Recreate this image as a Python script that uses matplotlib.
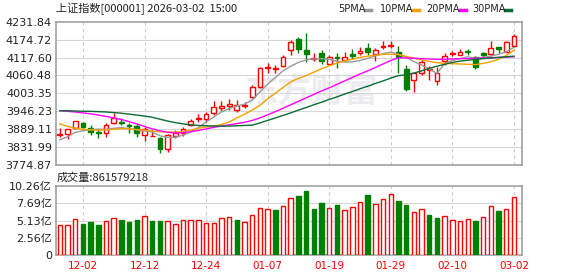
import matplotlib
matplotlib.use("Agg")
import matplotlib.pyplot as plt
from matplotlib.lines import Line2D
import numpy as np

plt.rcParams['font.family'] = ['DejaVu Sans', 'Noto Sans CJK SC']

# daily bars, 2025-11-27 .. 2026-03-02
dates = ["11-27", "11-28", "12-01", "12-02", "12-03", "12-04", "12-05", "12-08", "12-09", "12-10",
         "12-11", "12-12", "12-15", "12-16", "12-17", "12-18", "12-19", "12-22", "12-23", "12-24",
         "12-25", "12-26", "12-29", "12-30", "12-31", "01-05", "01-06", "01-07", "01-08", "01-09",
         "01-12", "01-13", "01-14", "01-15", "01-16", "01-19", "01-20", "01-21", "01-22", "01-23",
         "01-26", "01-27", "01-28", "01-29", "01-30", "02-02", "02-03", "02-04", "02-05", "02-06",
         "02-09", "02-10", "02-11", "02-12", "02-13", "02-24", "02-25", "02-26", "02-27", "03-02"]
opens = [3870, 3873, 3894, 3909, 3892, 3881, 3876, 3910, 3912, 3903,
         3899, 3870, 3866, 3860, 3825, 3866, 3878, 3902, 3920, 3921,
         3940, 3957, 3962, 3950, 3962, 3991, 4023, 4083, 4082, 4091,
         4142, 4176, 4142, 4113, 4131, 4097, 4119, 4110, 4128, 4131,
         4147, 4128, 4152, 4155, 4136, 4081, 4046, 4068, 4078, 4044,
         4108, 4130, 4127, 4138, 4118, 4133, 4128, 4150, 4136, 4155]
highs = [3894, 3891, 3916, 3912, 3902, 3889, 3908, 3940, 3924, 3910,
         3906, 3897, 3887, 3863, 3874, 3886, 3897, 3921, 3937, 3945,
         3980, 3979, 3985, 3982, 3975, 4030, 4088, 4099, 4094, 4126,
         4174, 4184, 4197, 4131, 4142, 4126, 4131, 4136, 4144, 4152,
         4163, 4147, 4171, 4171, 4154, 4094, 4068, 4110, 4091, 4086,
         4131, 4139, 4144, 4144, 4123, 4136, 4171, 4151, 4170, 4193]
lows = [3865, 3857, 3890, 3894, 3871, 3860, 3865, 3906, 3902, 3878,
        3863, 3852, 3866, 3814, 3817, 3862, 3866, 3899, 3913, 3913,
        3934, 3947, 3950, 3945, 3957, 3988, 4020, 4069, 4069, 4088,
        4126, 4131, 4104, 4105, 4097, 4097, 4083, 4105, 4112, 4126,
        4126, 4105, 4144, 4147, 4069, 4010, 4009, 4062, 4046, 4030,
        4094, 4123, 4126, 4127, 4081, 4120, 4124, 4131, 4134, 4152]
closes = [3875, 3890, 3914, 3897, 3879, 3878, 3902, 3924, 3908, 3899,
          3876, 3890, 3868, 3825, 3871, 3876, 3889, 3916, 3924, 3938,
          3961, 3963, 3968, 3966, 3967, 4023, 4083, 4086, 4085, 4120,
          4166, 4144, 4129, 4116, 4108, 4118, 4115, 4120, 4123, 4138,
          4135, 4140, 4154, 4157, 4118, 4017, 4067, 4103, 4081, 4068,
          4124, 4132, 4134, 4136, 4088, 4125, 4149, 4146, 4166, 4186]
prev_close = 3866
volumes = [4.46, 4.46, 5.31, 4.61, 4.95, 4.46, 5.06, 5.46, 5.20, 4.91,
           5.20, 5.75, 5.06, 5.06, 5.06, 4.56, 5.20, 5.20, 5.20, 4.76,
           4.76, 5.46, 5.60, 5.20, 4.91, 5.90, 6.94, 6.84, 6.69, 7.24,
           8.43, 8.77, 9.52, 6.84, 7.73, 6.94, 7.44, 6.64, 7.09, 7.84,
           8.92, 7.54, 8.28, 9.03, 8.03, 7.44, 6.35, 6.80, 5.95, 5.50,
           5.75, 5.16, 5.01, 5.31, 5.01, 5.60, 7.24, 6.54, 6.80, 8.616]  # 亿
ma5 = [3855, 3865, 3879, 3884, 3888, 3889, 3889, 3892, 3894, 3891,
       3887, 3884, 3880, 3868, 3863, 3863, 3870, 3880, 3894, 3912,
       3928, 3944, 3955, 3963, 3969, 3982, 4008, 4033, 4054, 4075,
       4090, 4102, 4110, 4113, 4114, 4112, 4106, 4103, 4104, 4108,
       4115, 4123, 4130, 4135, 4128, 4118, 4105, 4094, 4081, 4067,
       4098, 4108, 4114, 4120, 4115, 4118, 4122, 4128, 4136, 4150]
ma10 = [3906, 3898, 3892, 3889, 3887, 3886, 3887, 3889, 3891, 3890,
        3888, 3886, 3883, 3881, 3880, 3880, 3881, 3886, 3892, 3896,
        3899, 3904, 3912, 3925, 3937, 3950, 3965, 3986, 4004, 4022,
        4040, 4051, 4060, 4071, 4082, 4091, 4100, 4107, 4112, 4118,
        4122, 4125, 4128, 4128, 4127, 4121, 4116, 4110, 4105, 4101,
        4099, 4098, 4097, 4096, 4095, 4099, 4104, 4112, 4124, 4141]
ma20 = [3948, 3946, 3944, 3941, 3938, 3934, 3930, 3925, 3920, 3913,
        3906, 3898, 3890, 3884, 3879, 3877, 3878, 3881, 3885, 3890,
        3895, 3899, 3903, 3907, 3911, 3917, 3925, 3935, 3945, 3956,
        3967, 3978, 3989, 4000, 4011, 4021, 4032, 4043, 4054, 4065,
        4075, 4086, 4097, 4108, 4117, 4116, 4115, 4114, 4113, 4112,
        4112, 4113, 4114, 4114, 4115, 4116, 4117, 4118, 4119, 4120]
ma30 = [3948, 3948, 3947, 3946, 3946, 3945, 3944, 3942, 3940, 3937,
        3934, 3931, 3927, 3921, 3915, 3910, 3906, 3903, 3901, 3900,
        3899, 3899, 3899, 3900, 3901, 3902, 3909, 3917, 3925, 3933,
        3941, 3950, 3958, 3967, 3975, 3984, 3992, 4001, 4009, 4018,
        4026, 4035, 4043, 4052, 4060, 4062, 4068, 4075, 4083, 4090,
        4096, 4102, 4106, 4109, 4112, 4114, 4116, 4118, 4120, 4122]

price_ticks = [3774.87, 3831.99, 3889.11, 3946.23, 4003.35, 4060.48, 4117.60, 4174.72, 4231.84]
vol_ticks = [0, 2.565, 5.13, 7.695, 10.26]
vol_tick_labels = ["0", "2.56亿", "5.13亿", "7.69亿", "10.26亿"]
date_ticks = ["12-02", "12-12", "12-24", "01-07", "01-19", "01-29", "02-10", "03-02"]

RED = '#ff0000'
GREEN = '#008000'
FRAME = '#999999'
W, H = 578, 276

fig = plt.figure(figsize=(W / 100, H / 100), dpi=100)
ax = fig.add_axes([56 / W, 1 - 165 / H, 466 / W, 143.3 / H])
axv = fig.add_axes([56 / W, 1 - 255 / H, 466 / W, 69 / H])

o = np.array(opens, float)
h = np.array(highs, float)
l = np.array(lows, float)
c = np.array(closes, float)
x = np.arange(len(dates))
up = c >= o
tick_pos = [dates.index(d) for d in date_ticks]

for a in (ax, axv):
    a.set_xlim(-0.5, 60.05)
    for s in a.spines.values():
        s.set_color(FRAME)
        s.set_linewidth(1.1)
    a.tick_params(length=0)
    for p in tick_pos:
        a.axvline(p, color='#cccccc', lw=0.8, ls=(0, (3, 3)), zorder=0.5)

# price panel
ax.set_ylim(price_ticks[0], price_ticks[-1])
for v in price_ticks[1:-1]:
    ax.axhline(v, color='#d6d6d6', lw=0.8, zorder=0.5)
ax.set_yticks(price_ticks)
ax.set_yticklabels(["%.2f" % v for v in price_ticks], fontsize=8, color='#222222')
ax.tick_params(axis='y', pad=3)
ax.set_xticks([])

ax.text(311 / W, 1 - 93 / H, "东方财富", transform=fig.transFigure, ha='center', va='center',
        fontsize=24, fontweight='bold', color='#ececf0', family='Noto Sans CJK SC', zorder=0.4)

cols = np.where(up, RED, GREEN)
ax.vlines(x, l, h, colors=cols, lw=1, zorder=2)
bot = np.minimum(o, c)
hgt = np.maximum(np.abs(c - o), 0.8)
ax.bar(x[up], hgt[up], bottom=bot[up], width=0.62, facecolor='white', edgecolor=RED, lw=1, zorder=3)
ax.bar(x[~up], hgt[~up], bottom=bot[~up], width=0.62, facecolor=GREEN, edgecolor=GREEN, lw=1, zorder=3)

ma_cols = ['#999999', '#f5a000', '#ff00ff', '#0a6b34']
for m, col in zip([ma5, ma10, ma20, ma30], ma_cols):
    ax.plot(x, m, color=col, lw=1, zorder=4)

# volume panel
pc = np.concatenate([[prev_close], c[:-1]])
vup = c >= pc
vol = np.array(volumes)
axv.set_ylim(0, vol_ticks[-1])
for v in vol_ticks[1:-1]:
    axv.axhline(v, color='#d6d6d6', lw=0.8, zorder=0.5)
axv.bar(x[vup], vol[vup], width=0.58, facecolor='white', edgecolor=RED, lw=1, zorder=3)
axv.bar(x[~vup], vol[~vup], width=0.58, facecolor=GREEN, edgecolor=GREEN, lw=1, zorder=3)
axv.set_yticks(vol_ticks)
axv.set_yticklabels(vol_tick_labels, fontsize=8, color='#222222')
axv.tick_params(axis='y', pad=3)
axv.set_xticks(tick_pos)
axv.set_xticklabels(date_ticks, fontsize=7.5, color=RED)
axv.tick_params(axis='x', pad=4)

# header texts
fig.text(56 / W, 1 - 9 / H, "上证指数[000001] 2026-03-02  15:00", fontsize=8, va='center',
         color='#222222', family=['Noto Sans CJK SC'])
fig.text(57 / W, 1 - 178 / H, "成交量:861579218", fontsize=8, va='center', color='#222222',
         family=['Noto Sans CJK SC'])
legend = [("5PMA", 338, 365), ("10PMA", 380, 413), ("20PMA", 426, 460), ("30PMA", 472, 505)]
for (name, tx, dx), col in zip(legend, ma_cols):
    fig.text(tx / W, 1 - 9 / H, name, fontsize=7, va='center', color='#222222')
    fig.add_artist(Line2D([dx / W, (dx + 6) / W], [1 - 9.5 / H, 1 - 9.5 / H], color=col, lw=2.5,
                          transform=fig.transFigure))

fig.savefig("out.png", dpi=100)
